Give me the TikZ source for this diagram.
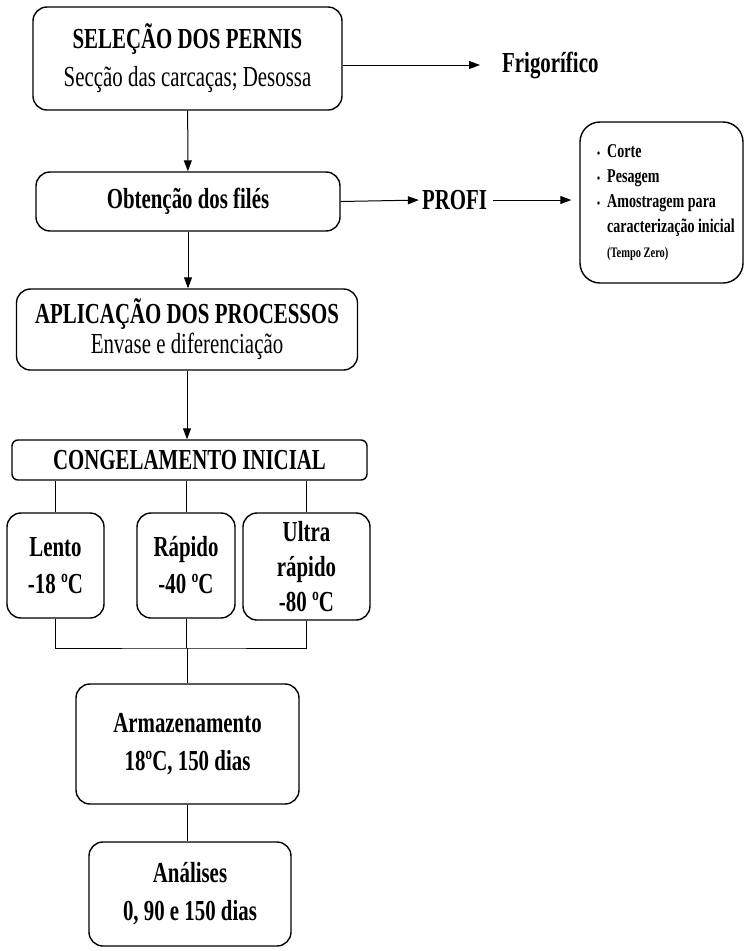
\documentclass[tikz,border=0pt]{standalone}
\usepackage{fontspec}
\setmainfont{Liberation Serif}[FakeStretch=0.72]
\usetikzlibrary{arrows.meta}

\begin{document}
\begin{tikzpicture}[x=1pt,y=-1pt]
	% Styles
	\tikzstyle{etapa}=[draw=black,line width=1.4pt,rounded corners=14pt,inner sep=0pt,align=center,font=\fontsize{29}{38}\selectfont\bfseries]
	\tikzstyle{rotulo}=[inner sep=0pt,font=\fontsize{29}{30}\selectfont\bfseries]
	\tikzstyle{seta}=[draw,line width=1pt,-{Triangle[length=11pt,width=8pt]}]
	\tikzstyle{liga}=[draw,line width=1pt]

	\useasboundingbox (0,0) rectangle (748,951);

	% Main column
	\node[etapa,minimum width=309,minimum height=103] (selecao) at (187.5,58.5) {SELEÇÃO DOS PERNIS\\\mdseries Secção das carcaças; Desossa};
	\node[etapa,minimum width=304,minimum height=59] (obtencao) at (188,201.5) {Obtenção dos filés};
	\node[etapa,minimum width=341,minimum height=81,font=\fontsize{29}{30}\selectfont\bfseries] (aplicacao) at (187,329.5) {APLICAÇÃO DOS PROCESSOS\\\mdseries Envase e diferenciação};
	\node[etapa,minimum width=355,minimum height=40,rounded corners=6pt] (congel) at (189.5,460) {CONGELAMENTO INICIAL};

	% Freezing rates
	\node[etapa,minimum width=97,minimum height=105,font=\fontsize{29}{37}\selectfont\bfseries] (lento) at (55.5,565.5) {Lento\\-18 ºC};
	\node[etapa,minimum width=98,minimum height=105,font=\fontsize{29}{37}\selectfont\bfseries] (rapido) at (186,565.5) {Rápido\\-40 ºC};
	\node[etapa,minimum width=127,minimum height=107,font=\fontsize{29}{35}\selectfont\bfseries] (ultra) at (306.5,566.5) {Ultra\\rápido\\-80 ºC};

	% Storage and analyses
	\node[etapa,minimum width=223,minimum height=120] (armazena) at (187.5,744) {Armazenamento\\18ºC, 150 dias};
	\node[etapa,minimum width=202,minimum height=104] (analises) at (190,894) {Análises\\0, 90 e 150 dias};

	% Side branch
	\node[rotulo,anchor=west] (frigo) at (502,65) {Frigorífico};
	\node[rotulo] (profi) at (454.5,200) {PROFI};
	\node[etapa,minimum width=163,minimum height=161,rounded corners=20pt] (profibox) at (661.5,202.5) {};
	\node[anchor=west,inner sep=0pt,align=left,font=\fontsize{19.5}{25}\selectfont\bfseries] (itens) at (597,203)
		{{\fontsize{12}{12}\selectfont\textbullet}\hspace{7pt}Corte\\
		 {\fontsize{12}{12}\selectfont\textbullet}\hspace{7pt}Pesagem\\
		 {\fontsize{12}{12}\selectfont\textbullet}\hspace{7pt}Amostragem para\\
		 \hphantom{{\fontsize{12}{12}\selectfont\textbullet}\hspace{7pt}}caracterização inicial\\
		 \hphantom{{\fontsize{12}{12}\selectfont\textbullet}\hspace{7pt}}{\fontsize{14.5}{20}\selectfont(Tempo Zero)}};

	% Arrows
	\path[seta] (selecao) -- (obtencao);
	\path[seta] (obtencao) -- (aplicacao.north -| obtencao);
	\path[seta] (aplicacao.south) -- (aplicacao.south |- congel.north);
	\path[seta,shorten >=22pt] (selecao.east |- frigo.west) -- (frigo.west);
	\path[seta,shorten >=3pt] (obtencao.east) -- (profi.west);
	\path[seta,shorten <=6pt,shorten >=8pt] (profi.east) -- (profi.east -| profibox.west);

	% Connections below the freezing box
	\foreach \rate in {lento,rapido,ultra}
	\path[liga] (\rate.north) -- (\rate.north |- congel.south);
	\coordinate (juncao) at (187.5,648);
	\path[liga] (lento.south) |- (juncao) -| (ultra.south);
	\path[liga] (rapido.south) -- (rapido.south |- juncao);
	\path[liga] (juncao) -- (armazena.north);
	\path[liga] (armazena.south) -- (armazena.south |- analises.north);
\end{tikzpicture}
\end{document}
